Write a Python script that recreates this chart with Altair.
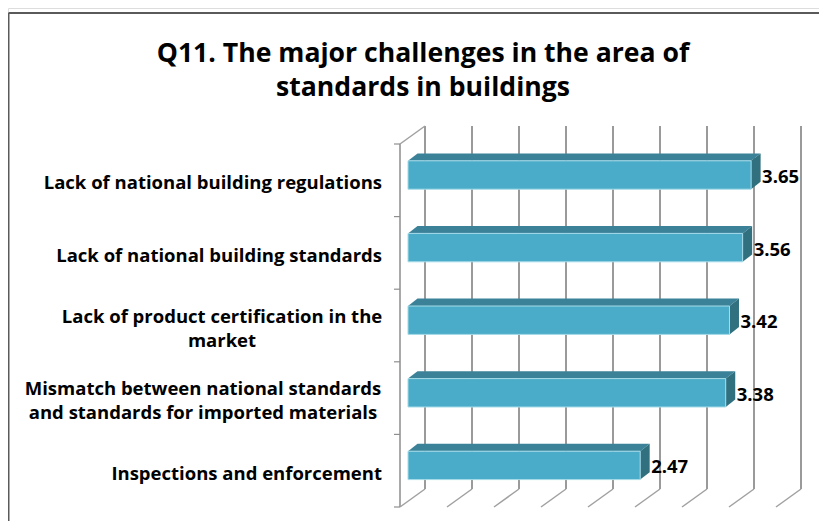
import altair as alt
import pandas as pd

categories = ["Inspections and enforcement",
              "Mismatch between national standards\nand standards for imported materials ",
              "Lack of product certification in the\nmarket",
              "Lack of national building standards",
              "Lack of national building regulations"]
values = [2.47, 3.38, 3.42, 3.56, 3.65]
title_lines = ["Q11. The major challenges in the area of", "standards in buildings"]
grid_values = [0, 0.5, 1, 1.5, 2, 2.5, 3, 3.5, 4]
tick_rows = [0, 1, 2, 3, 4, 5]

W, H = 811, 513
PX, PY = 94.0, 72.6            # pixels per value unit / per category row
X0, Y0 = 400.0, 507.0          # front corner of the floor on the page
BAR_X, BAR_Y = 8.0, 5.3        # how far into the depth the bar's front sits
BACK_X, BACK_Y = 25.0, 18.0    # depth of the walls
BAR_DX, BAR_DY = 9.5, 7.4      # depth of a bar
BAR_H = 28.4
LINE_H = 24.0
LABEL_RIGHT = 382.0
BLOCK_HALF = {1: 179.0, 2: 160.0}  # half the width of a wrapped label, by row

dx = alt.Scale(domain=[(8 - X0) / PX, (8 + W - X0) / PX], nice=False, zero=False)
dy = alt.Scale(domain=[(Y0 - 8 - H) / PY, (Y0 - 8) / PY], nice=False, zero=False)
X = lambda f, **k: alt.X(f, type="quantitative", scale=dx, axis=None, **k)
Y = lambda f, **k: alt.Y(f, type="quantitative", scale=dy, axis=None, **k)

ux, uy = BACK_X / PX, BACK_Y / PY
rows = []
single_rows, wrapped_rows = [], []
for i, (c, v) in enumerate(zip(categories, values)):
    mid = i + 0.5 + BAR_Y / PY
    rows.append(dict(cat=c, value=v, label=f"{v:.2f}", row=i + 0.5,
                     x0=BAR_X / PX, x1=BAR_X / PX + v,
                     y_bot=mid - BAR_H / 2 / PY, y_top=mid + BAR_H / 2 / PY,
                     y_mid=mid))
    parts = c.split("\n")
    for k, part in enumerate(parts):
        ly = i + 0.5 - (k - (len(parts) - 1) / 2) * LINE_H / PY
        if len(parts) == 1:
            single_rows.append(dict(line=part.strip(), lx=(LABEL_RIGHT - X0) / PX, ly=ly))
        else:
            wrapped_rows.append(dict(line=part.strip(),
                                     lx=(LABEL_RIGHT - BLOCK_HALF[i] - X0) / PX, ly=ly))
bars = pd.DataFrame(rows)
ddx, ddy = BAR_DX / PX, BAR_DY / PY

grid = pd.DataFrame({"v": grid_values})
grid["fx"] = grid.v
grid["bx"] = grid.v + ux
grid["fy"] = 0.0
grid["by"] = uy
grid["ty"] = 5 + uy

back = alt.Chart(grid).mark_rule(color="#8f8f8f", strokeWidth=1.8).encode(
    x=X("bx"), y=Y("by"), y2="ty")
floor = alt.Chart(grid).mark_rule(color="#a0a0a0", strokeWidth=1.5).encode(
    x=X("fx"), x2="bx", y=Y("fy"), y2="by")
wall = pd.DataFrame({"x": [0.0], "xb": [ux], "yb": [0.0], "yt": [5.0], "ytb": [5 + uy]})
front_wall = alt.Chart(wall).mark_rule(color="#a0a0a0", strokeWidth=1.8).encode(
    x=X("x"), y=Y("yb"), y2="yt")
top_wall = alt.Chart(wall).mark_rule(color="#a0a0a0", strokeWidth=1.5).encode(
    x=X("x"), x2="xb", y=Y("yt"), y2="ytb")
ticks = pd.DataFrame({"r": tick_rows, "x": -6 / PX, "x2": 0.0})
tick_marks = alt.Chart(ticks).mark_rule(color="#8f8f8f", strokeWidth=1.2).encode(
    x=X("x"), x2="x2", y=Y("r"))

top_rows, side_rows = [], []
for b in rows:
    top_rows += [dict(row=b["row"], y=b["y_top"], a=b["x0"], c=b["x1"]),
                 dict(row=b["row"], y=b["y_top"] + ddy, a=b["x0"] + ddx, c=b["x1"] + ddx)]
    side_rows += [dict(row=b["row"], x=b["x1"], a=b["y_bot"], c=b["y_top"]),
                  dict(row=b["row"], x=b["x1"] + ddx, a=b["y_bot"] + ddy, c=b["y_top"] + ddy)]

top_face = alt.Chart(pd.DataFrame(top_rows)).mark_area(orient="horizontal", color="#3b8299").encode(
    y=Y("y"), x=X("a"), x2="c", detail="row:N")
side_face = alt.Chart(pd.DataFrame(side_rows)).mark_area(orient="vertical", color="#31707f").encode(
    x=X("x"), y=Y("a"), y2="c", detail="row:N")
front_face = alt.Chart(bars).mark_rect(color="#4aacc8", stroke="#a5dbe8", strokeWidth=1).encode(
    x=X("x0"), x2="x1", y=Y("y_bot"), y2="y_top")

FONT = "Open Sans"
value_labels = alt.Chart(bars).mark_text(
    align="left", baseline="middle", font=FONT, fontWeight="bold", fontSize=18.5, color="black",
    dx=BAR_DX + 1.5, dy=2).encode(x=X("x1"), y=Y("y_mid"), text="label:N")
single_labels = alt.Chart(pd.DataFrame(single_rows)).mark_text(
    align="right", baseline="middle", font=FONT, fontWeight="bold", fontSize=18.5, color="black",
    dy=3).encode(x=X("lx"), y=Y("ly"), text="line:N")
wrapped_labels = alt.Chart(pd.DataFrame(wrapped_rows)).mark_text(
    align="center", baseline="middle", font=FONT, fontWeight="bold", fontSize=18.5, color="black",
    dy=3).encode(x=X("lx"), y=Y("ly"), text="line:N")

frame = pd.DataFrame({"x": [(8.5 - X0) / PX], "x2": [(8 + W - X0) / PX],
                      "yt": [(Y0 - 13) / PY], "yb": [(Y0 - 8 - H) / PY]})
frame_top = alt.Chart(frame).mark_rule(color="#5a5a5a", strokeWidth=2).encode(
    x=X("x"), x2="x2", y=Y("yt"))
frame_left = alt.Chart(frame).mark_rule(color="#5a5a5a", strokeWidth=2).encode(
    x=X("x"), y=Y("yt"), y2="yb")

chart = alt.layer(
    frame_top, frame_left, back, floor, front_wall, top_wall, tick_marks,
    top_face, side_face, front_face, value_labels, single_labels, wrapped_labels
).properties(
    width=W, height=H, padding=0,
    autosize=alt.AutoSizeParams(type="none"),
    title=alt.TitleParams(text=title_lines, anchor="middle", font=FONT, fontWeight="bold",
                          fontSize=26.6, lineHeight=34, color="black", dx=9.5, dy=94, offset=0,
                          baseline="top"),
).configure_view(stroke=None).configure(background="white")

chart.save("out.html", embed_options={"renderer": "svg", "actions": False})
